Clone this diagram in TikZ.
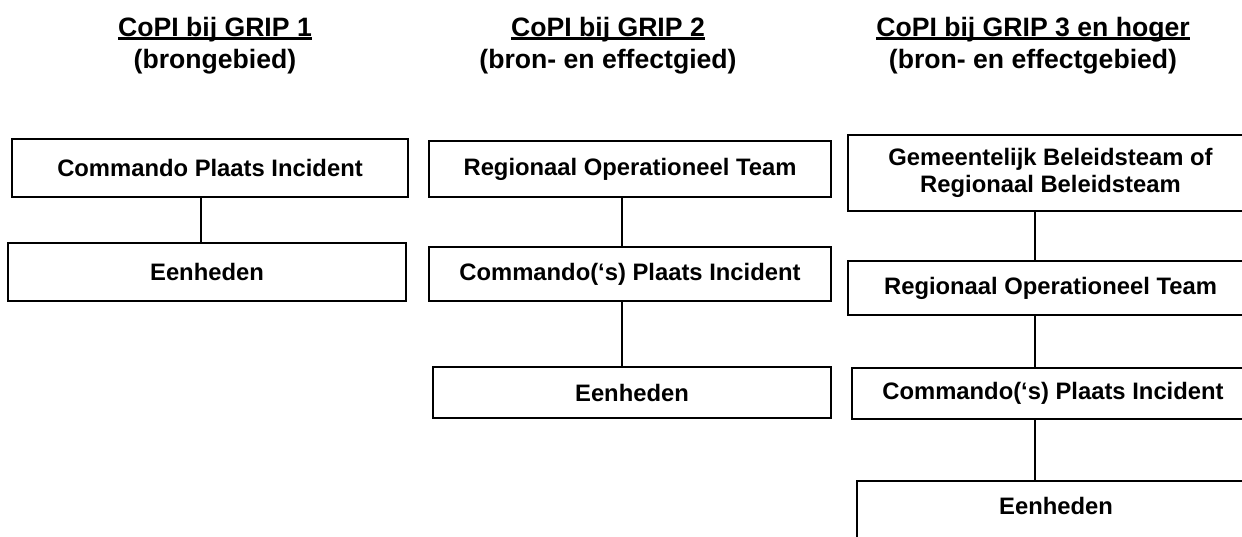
\documentclass[tikz,border=0pt]{standalone}
\usepackage{fontspec}
\setmainfont{Liberation Sans}
\newcommand{\myul}[1]{\setbox0\hbox{#1}\rlap{\rule[-3.4pt]{\wd0}{2.4pt}}\box0}
\begin{document}
\begin{tikzpicture}[x=1pt,y=-1pt,
  font=\bfseries\fontsize{23.8}{27}\selectfont,
  box/.style={draw, line width=1.6pt, inner sep=0pt, align=center},
  link/.style={line width=2.8pt},
  title/.style={font=\bfseries\fontsize{26.6}{32.5}\selectfont, align=center, anchor=north, inner sep=0pt}]
\useasboundingbox (0,0) rectangle (1242,537);
\clip (0,0) rectangle (1242,537);
% titles
\node[title] (t1) at (215,17) {\myul{CoPI bij GRIP 1}\\(brongebied)};
\node[title] (t2) at (608,17) {\myul{CoPI bij GRIP 2}\\(bron- en effectgied)};
\node[title] (t3) at (1033,17) {\myul{CoPI bij GRIP 3 en hoger}\\(bron- en effectgebied)};
% column 1
\node[box, minimum width=396pt, minimum height=58pt] (b11) at (210,168) {Commando Plaats Incident};
\node[box, minimum width=398pt, minimum height=58pt] (b12) at (207,272) {Eenheden};
\draw[link] ([xshift=-9pt]b11.south) -- ([xshift=-9pt]b11.south |- b12.north);
% column 2
\node[box, minimum width=402pt, minimum height=56pt] (b21) at (630,169) {Regionaal Operationeel Team};
\node[box, minimum width=402pt, minimum height=54pt] (b22) at (630,274) {Commando(‘s) Plaats Incident};
\node[box, minimum width=398pt, minimum height=51pt] (b23) at (632,392.5) {Eenheden};
\draw[link] ([xshift=-8pt]b21.south) -- ([xshift=-8pt]b21.south |- b22.north);
\draw[link] ([xshift=-8pt]b22.south) -- ([xshift=-8pt]b22.south |- b23.north);
% column 3
\node[box, minimum width=405pt, minimum height=76pt] (b31) at (1050.5,173) {Gemeentelijk Beleidsteam of\\Regionaal Beleidsteam};
\node[box, minimum width=405pt, minimum height=54pt] (b32) at (1050.5,288) {Regionaal Operationeel Team};
\node[box, minimum width=402pt, minimum height=51pt] (b33) at (1053,393.5) {Commando(‘s) Plaats Incident};
\node[box, minimum width=398pt, minimum height=60pt, text height=17.4pt, text depth=11.4pt] (b34) at (1056,511) {Eenheden};
\draw[link] ([xshift=-15.5pt]b31.south) -- ([xshift=-15.5pt]b31.south |- b32.north);
\draw[link] ([xshift=-15.5pt]b32.south) -- ([xshift=-15.5pt]b32.south |- b33.north);
\draw[link] ([xshift=-18pt]b33.south) -- ([xshift=-18pt]b33.south |- b34.north);
\end{tikzpicture}
\end{document}
